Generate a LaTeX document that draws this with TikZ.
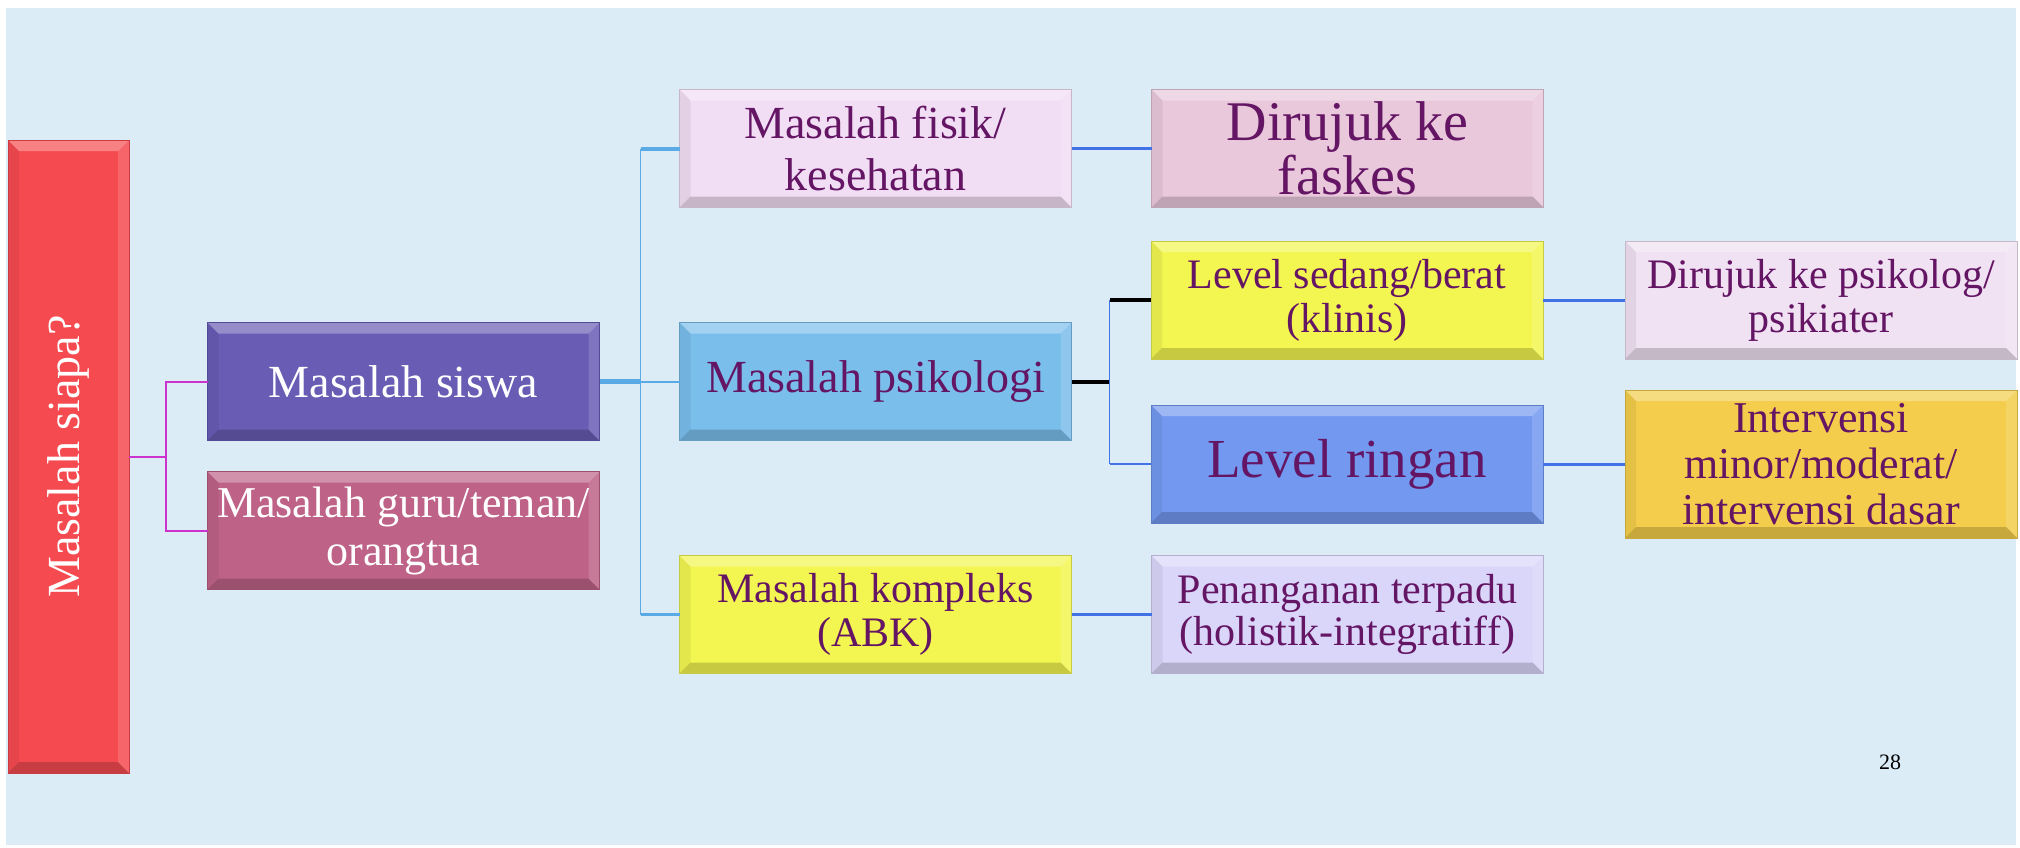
\documentclass[tikz,border=0pt]{standalone}
\usepackage{fontspec}
\setmainfont{Liberation Serif}
\usetikzlibrary{positioning}
\definecolor{slidebg}{RGB}{220, 236, 246}
\definecolor{tilered}{RGB}{245, 75, 80}
\definecolor{tileviolet}{RGB}{104, 92, 180}
\definecolor{tilerose}{RGB}{190, 98, 135}
\definecolor{tilelilac}{RGB}{242, 222, 244}
\definecolor{tilesky}{RGB}{122, 190, 236}
\definecolor{tilelemon}{RGB}{243, 246, 80}
\definecolor{tilepink}{RGB}{233, 200, 220}
\definecolor{tilecorn}{RGB}{114, 152, 240}
\definecolor{tilelavender}{RGB}{218, 214, 250}
\definecolor{tilemist}{RGB}{240, 225, 243}
\definecolor{tilegold}{RGB}{243, 205, 75}
\definecolor{txtplum}{RGB}{100, 22, 100}
\definecolor{lnmagenta}{RGB}{204, 51, 204}
\definecolor{lnsky}{RGB}{90, 170, 230}
\definecolor{lnroyal}{RGB}{65, 115, 230}

\begin{document}
\begin{tikzpicture}[x=1pt, y=-1pt,
        bevel/.style={path picture={
            \coordinate (bNW) at (path picture bounding box.north west);
            \coordinate (bNE) at (path picture bounding box.north east);
            \coordinate (bSW) at (path picture bounding box.south west);
            \coordinate (bSE) at (path picture bounding box.south east);
            \fill[white, opacity=0.3] (bNW) -- (bNE) -- ([shift={(-11pt,-11pt)}]bNE) -- ([shift={(11pt,-11pt)}]bNW) -- cycle;
            \fill[black, opacity=0.06] (bNW) -- ([shift={(11pt,-11pt)}]bNW) -- ([shift={(11pt,11pt)}]bSW) -- (bSW) -- cycle;
            \fill[black, opacity=0.18] (bSW) -- (bSE) -- ([shift={(-11pt,11pt)}]bSE) -- ([shift={(11pt,11pt)}]bSW) -- cycle;
            \fill[white, opacity=0.15] (bNE) -- (bSE) -- ([shift={(-11pt,11pt)}]bSE) -- ([shift={(-11pt,-11pt)}]bNE) -- cycle;
        }},
        tile/.style={rectangle, fill=#1, draw=#1!82!black, line width=0.8pt, minimum width=392pt, minimum height=118pt, inner sep=0pt, outer sep=0pt, align=center, text=txtplum, bevel},
        ptree/.style={draw=lnmagenta, line width=2pt},
        sky/.style={draw=lnsky},
        ink/.style={draw=black, line width=4pt},
        link/.style={draw=lnroyal, line width=3pt}
    ]
        \fill[white] (0,0) rectangle (2020,847);
        \fill[slidebg] (6,8) rectangle (2016,845);
        \useasboundingbox (0,0) rectangle (2020,847);

        \node[tile=tilered, minimum width=121pt, minimum height=633pt, text=white, font=\fontsize{46}{50}\selectfont] (red) at (68.5,456.5) {\rotatebox{90}{Masalah siapa?}};
        \node[tile=tileviolet, text=white, font=\fontsize{46}{50}\selectfont] (siswa) at (403.5,381.5) {Masalah siswa};
        \node[tile=tilerose, below=31pt of siswa, text=white, font=\fontsize{44}{48}\selectfont] (guru) {Masalah guru/teman/\\orangtua};

        \node[tile=tilesky, right=80pt of siswa, font=\fontsize{46}{50}\selectfont] (psikologi) {Masalah psikologi};
        \node[tile=tilelilac, above=115pt of psikologi, font=\fontsize{46}{52}\selectfont] (fisik) {Masalah fisik/\\kesehatan};
        \node[tile=tilelemon, below=115pt of psikologi, font=\fontsize{42}{44}\selectfont] (kompleks) {Masalah kompleks\\(ABK)};

        \node[tile=tilepink, right=80pt of fisik, font=\fontsize{56}{54}\selectfont] (faskes) {Dirujuk ke\\faskes};
        \node[tile=tilelemon, font=\fontsize{42}{44}\selectfont] (sedang) at (1347,300) {Level sedang/berat\\(klinis)};
        \node[tile=tilecorn, below=46pt of sedang, font=\fontsize{55}{58}\selectfont] (ringan) {Level ringan};
        \node[tile=tilelavender, right=80pt of kompleks, font=\fontsize{42}{42}\selectfont] (terpadu) {Penanganan terpadu\\(holistik-integratiff)};

        \node[tile=tilemist, right=82pt of sedang, font=\fontsize{42}{44}\selectfont] (psikolog) {Dirujuk ke psikolog/\\psikiater};
        \node[tile=tilegold, right=82pt of ringan, minimum height=148pt, font=\fontsize{44}{46}\selectfont] (intervensi) {Intervensi\\minor/moderat/\\intervensi dasar};

        \node[font=\fontsize{22}{24}\selectfont] (halaman) at (1890,762) {28};

        \coordinate (rj) at ([xshift=37pt]red.east);
        \draw[ptree] (red.east) -- (rj) |- (siswa.west);
        \draw[ptree] (rj) |- (guru.west);

        \coordinate (sj) at ([xshift=41pt]siswa.east);
        \draw[sky, line width=5pt] (siswa.east) -- (sj);
        \draw[sky, line width=1.5pt] (sj |- fisik.west) -- (sj |- kompleks.west);
        \draw[sky, line width=4pt] (sj |- fisik.west) -- (fisik.west);
        \draw[sky, line width=2pt] (sj) -- (psikologi.west);
        \draw[sky, line width=3pt] (sj |- kompleks.west) -- (kompleks.west);

        \coordinate (kj) at ([xshift=38pt]psikologi.east);
        \draw[ink] (psikologi.east) -- (kj);
        \draw[draw=lnroyal, line width=1.5pt] (kj |- sedang.west) -- (kj |- ringan.west);
        \draw[ink] (kj |- sedang.west) -- (sedang.west);
        \draw[draw=lnroyal, line width=1.5pt] (kj |- ringan.west) -- (ringan.west);

        \foreach \a/\b in {fisik/faskes, sedang/psikolog, ringan/intervensi, kompleks/terpadu}
            \draw[link] (\a.east) -- (\b.west);
    \end{tikzpicture}
\end{document}
